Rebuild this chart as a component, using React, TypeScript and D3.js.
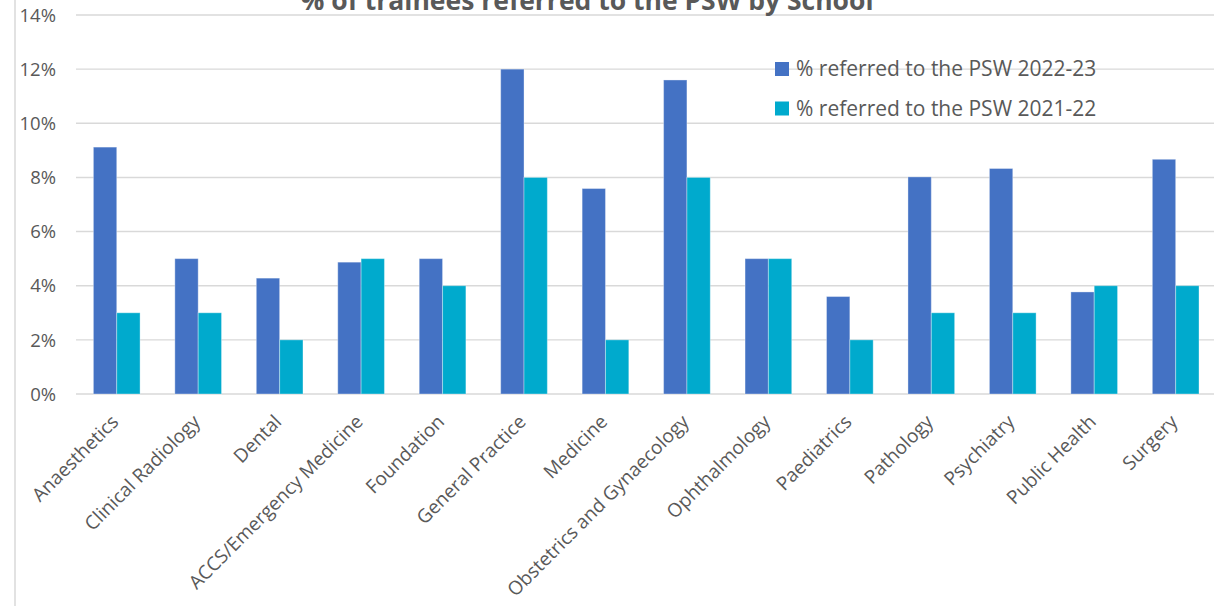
import React from "react";
import * as d3 from "d3";

const categories = [
  "Anaesthetics",
  "Clinical Radiology",
  "Dental",
  "ACCS/Emergency Medicine",
  "Foundation",
  "General Practice",
  "Medicine",
  "Obstetrics and Gynaecology",
  "Ophthalmology",
  "Paediatrics",
  "Pathology",
  "Psychiatry",
  "Public Health",
  "Surgery",
];
const series2223 = [9.12, 5.0, 4.28, 4.87, 5.0, 12.0, 7.59, 11.6, 5.0, 3.6, 8.02, 8.33, 3.77, 8.67];
const series2122 = [3, 3, 2, 5, 4, 8, 2, 8, 5, 2, 3, 3, 4, 4];
const seriesNames = ["% referred to the PSW 2022-23", "% referred to the PSW 2021-22"];
const seriesColors = ["#4472C4", "#00AACD"];
const yTicks = [0, 2, 4, 6, 8, 10, 12, 14];
const title = "% of trainees referred to the PSW by School";

const W = 1214;
const H = 606;
const FONT = "'Open Sans', 'DejaVu Sans', sans-serif";
const TEXT = "#595959";
const GRID = "#D9D9D9";

export default function App() {
  const x = d3
    .scaleBand<string>()
    .domain(categories)
    .range([76, 1216.4])
    .paddingInner(0.427)
    .paddingOuter(0.2135);
  const xs = d3
    .scaleBand<number>()
    .domain([0, 1])
    .range([0, x.bandwidth()]);
  const y = d3.scaleLinear().domain([0, 14]).range([394, 15]);
  const data = [series2223, series2122];

  return (
    <div style={{ position: "fixed", left: 0, top: 0, width: W, height: H, background: "#fff" }}>
      <svg width={W} height={H} style={{ display: "block" }} fontFamily={FONT}>
        <rect x={0} y={0} width={W} height={H} fill="#fff" />
        <line x1={15} x2={15} y1={0} y2={H} stroke={GRID} strokeWidth={1.5} />
        {yTicks.map((t) => (
          <g key={t}>
            <line x1={76} x2={W} y1={y(t)} y2={y(t)} stroke={GRID} strokeWidth={1.4} />
            <text x={56} y={y(t) + 6.7} textAnchor="end" fontSize={18.5} fill={TEXT}>
              {t}%
            </text>
          </g>
        ))}
        {data.map((vals, si) =>
          vals.map((v, i) => (
            <rect
              key={si + "-" + i}
              x={(x(categories[i]) as number) + (xs(si) as number)}
              y={y(v)}
              width={xs.bandwidth()}
              height={y(0) - y(v)}
              fill={seriesColors[si]}
              stroke="rgba(255,255,255,0.35)"
              strokeWidth={1}
            />
          ))
        )}
        {categories.map((c) => {
          const cx = (x(c) as number) + x.bandwidth() / 2 + 3;
          const cy = 423;
          return (
            <text
              key={c}
              x={cx}
              y={cy}
              textAnchor="end"
              fontSize={19}
              fill={TEXT}
              transform={`rotate(-45 ${cx} ${cy})`}
            >
              {c}
            </text>
          );
        })}
        <text x={587} y={10} textAnchor="middle" fontSize={26.5} fontWeight="bold" fill={TEXT}>
          {title}
        </text>
        {seriesNames.map((n, i) => (
          <g key={n} transform={`translate(775, ${62 + i * 39.5})`}>
            <rect x={0} y={0} width={14} height={14} fill={seriesColors[i]} />
            <text x={21} y={14} fontSize={21} fill={TEXT}>
              {n}
            </text>
          </g>
        ))}
      </svg>
    </div>
  );
}
